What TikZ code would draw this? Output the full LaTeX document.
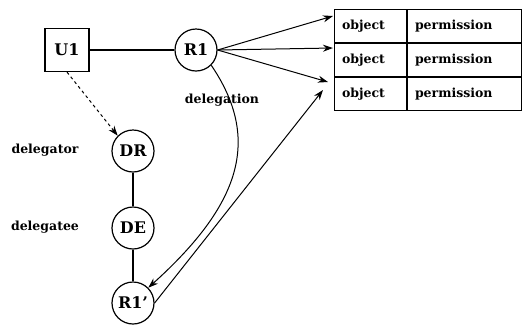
\documentclass[tikz,border=0pt]{standalone}
\usepackage{fontspec}
\setmainfont{DejaVu Serif}
\usetikzlibrary{arrows.meta,positioning,calc}

\begin{document}
\begin{tikzpicture}[x=1pt, y=-1pt,
  user/.style={draw, line width=1.2pt, minimum width=44pt, minimum height=43pt,
               font=\bfseries\fontsize{16}{16}\selectfont, inner sep=0pt},
  role/.style={draw, line width=1.2pt, circle, minimum size=42pt, inner sep=0pt,
               font=\bfseries\fontsize{16}{16}\selectfont},
  cell/.style={draw, line width=1pt, minimum height=33pt, inner ysep=0pt,
               inner xsep=8pt, align=left,
               font=\bfseries\fontsize{12.5}{12.5}\selectfont},
  objcell/.style={cell, text width=56pt},
  permcell/.style={cell, text width=98pt},
  lbl/.style={font=\bfseries\fontsize{12.5}{12.5}\selectfont},
  arr/.style={-{Stealth[length=10pt, width=7pt]}, line width=1pt},
  darr/.style={-{Stealth[length=10pt, width=7pt]}, line width=1pt, dashed}
]
\useasboundingbox (0,0) rectangle (522,325);

\node[user] (u1) at (67,50) {U1};
\node[role] (r1) at (196,50) {R1};
\node[role] (dr) at (133,151) {DR};
\node[role] (de) at (133,228) {DE};
\node[role] (r1p) at (133,303) {R1'};

% permission table
\node[objcell] (obj1) at (370,26) {object};
\node[permcell, anchor=west] (perm1) at (obj1.east) {permission};
\node[objcell, below=0pt of obj1] (obj2) {object};
\node[permcell, anchor=west] (perm2) at (obj2.east) {permission};
\node[objcell, below=0pt of obj2] (obj3) {object};
\node[permcell, anchor=west] (perm3) at (obj3.east) {permission};

\node[lbl] (lbdr) at (45,150) {delegator};
\node[lbl] (lbde) at (45,227) {delegatee};
\node[lbl] (lbdg) at (222,100) {delegation};

\coordinate (t1) at (333,16);
\coordinate (t2) at (333,48);
\coordinate (t3) at (328,82);
\coordinate (t4) at (323,90);

\draw[line width=1.2pt] (u1) -- (r1);
\draw[darr] (u1.south) -- (dr.north west);
\draw[line width=1.2pt] (dr) -- (de);
\draw[line width=1.2pt] (de) -- (r1p);

\draw[arr] (r1.east) -- (t1);
\draw[arr] (r1.east) -- (t2);
\draw[arr] (r1.east) -- (t3);

\draw[arr] (r1.south east) .. controls (262,140) and (240,205) .. (r1p.north east);
\draw[arr] (r1p.east) -- (t4);

\end{tikzpicture}
\end{document}
